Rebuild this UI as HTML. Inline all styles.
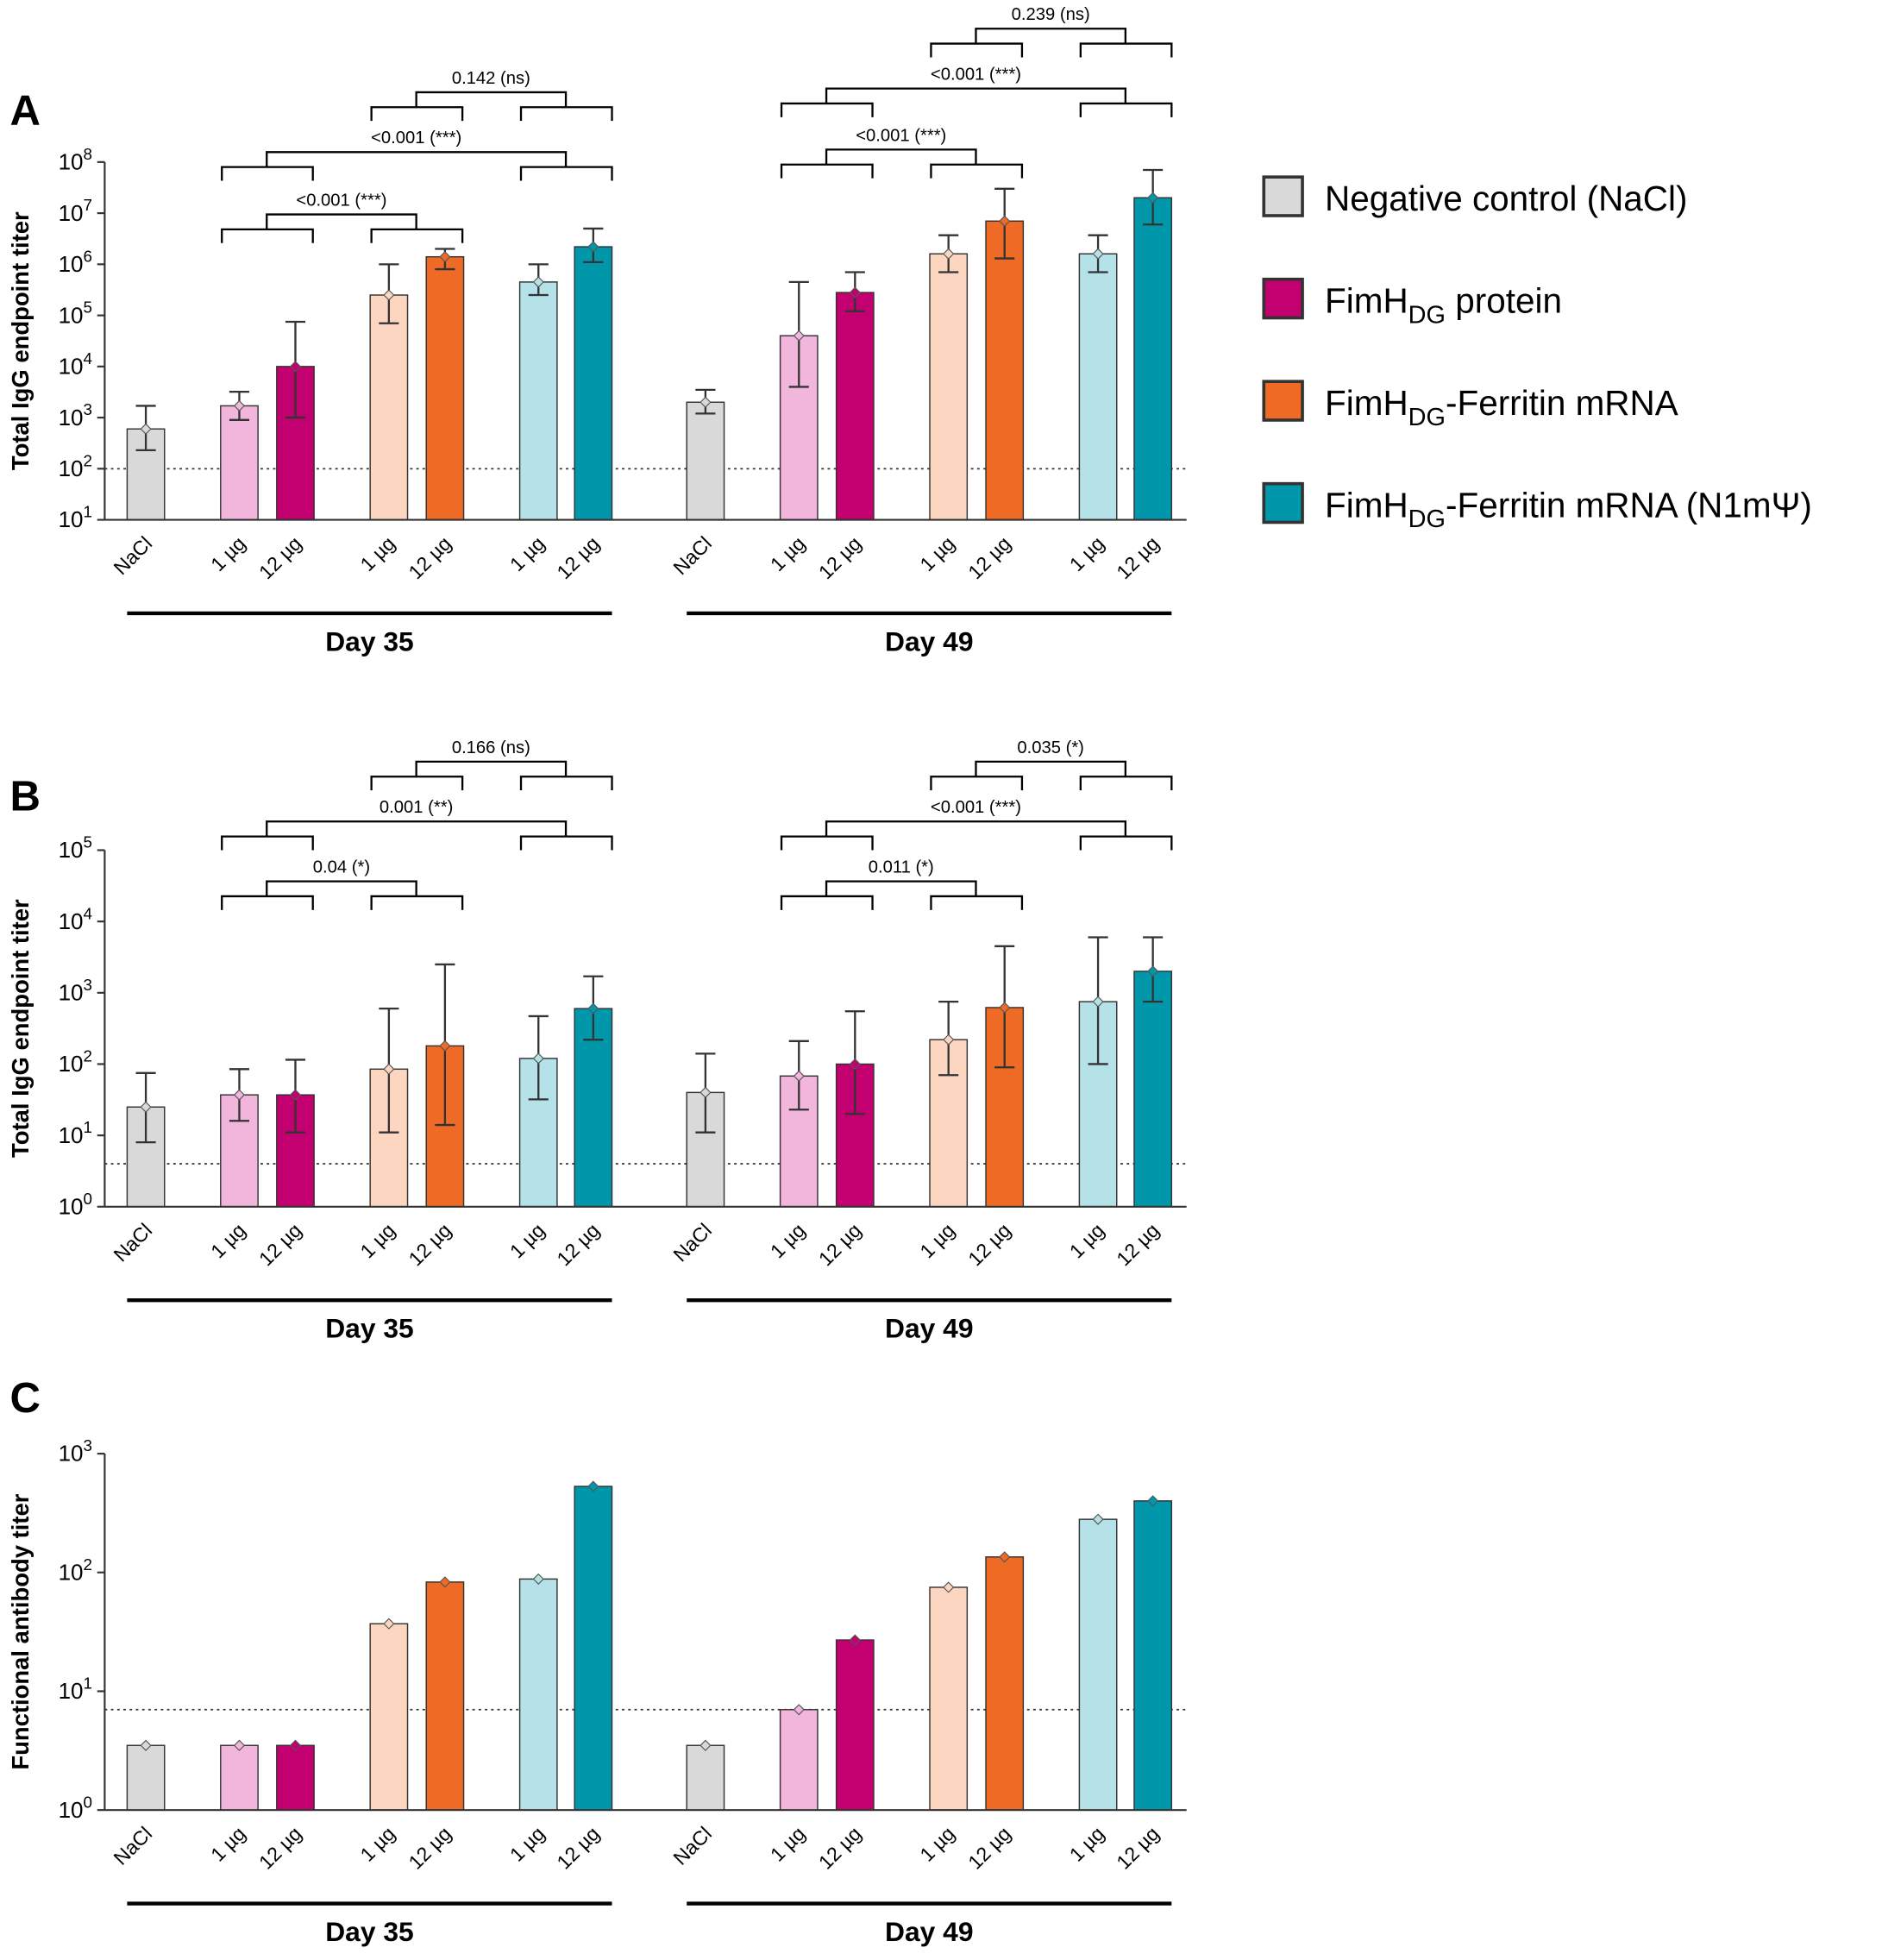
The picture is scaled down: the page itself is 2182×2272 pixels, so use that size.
<!DOCTYPE html>
<html><head><meta charset="utf-8"><style>
html,body{margin:0;padding:0;background:#fff}
svg{display:block;font-family:"Liberation Sans",Arial,sans-serif}
</style></head><body>
<svg id="chart" width="2182" height="2272" viewBox="0 0 1510 1572.3" xmlns="http://www.w3.org/2000/svg"></svg>
<script>
const categories = ["NaCl","1 µg","12 µg","1 µg","12 µg","1 µg","12 µg"];
const days = ["Day 35","Day 49"];
const valuesA = [[600,1700,10000,250000,1400000,450000,2200000],[2000,40000,280000,1600000,7000000,1600000,20000000]];
const lowA = [[230,900,1000,70000,800000,250000,1100000],[1200,4000,120000,700000,1300000,700000,6000000]];
const highA = [[1700,3200,75000,1000000,2000000,1000000,5000000],[3500,450000,700000,3700000,30000000,3700000,70000000]];
const valuesB = [[25,37,37,85,180,120,600],[40,68,100,220,620,750,2000]];
const lowB = [[8,16,11,11,14,32,220],[11,23,20,70,90,100,750]];
const highB = [[75,85,115,600,2500,470,1700],[140,210,550,750,4500,6000,6000]];
const valuesC = [[3.5,3.5,3.5,37,83,88,530],[3.5,7,27,75,135,280,400]];
const statsA = [["<0.001 (***)","<0.001 (***)","0.142 (ns)"],["<0.001 (***)","<0.001 (***)","0.239 (ns)"]];
const statsB = [["0.04 (*)","0.001 (**)","0.166 (ns)"],["0.011 (*)","<0.001 (***)","0.035 (*)"]];
const legendLabels = [["Negative control (NaCl)",""],["FimH","DG"," protein"],["FimH","DG","-Ferritin mRNA"],["FimH","DG","-Ferritin mRNA (N1mΨ)"]];

const colors=["#d9d9d9","#f2b6dd","#c2006f","#fdd6c2","#ee6a25","#b5e1e8","#0097aa"];
const legendColors=["#d9d9d9","#c2006f","#ee6a25","#0097aa"];
const NS="http://www.w3.org/2000/svg";
const svg=document.getElementById('chart');
function el(tag,attrs,parent){const e=document.createElementNS(NS,tag);for(const k in attrs)e.setAttribute(k,attrs[k]);(parent||svg).appendChild(e);return e;}
const offs=[0,75,120,195,240,315,359];
const dayStart=[117,566];
function xPos(d,i){return dayStart[d]+offs[i];}

function panel(cfg){
  const g=el('g',{});
  
  
  const y=v=>cfg.y0-(Math.log10(v)-cfg.minExp)*cfg.pxDec;
  const bottom=cfg.y0, top=y(Math.pow(10,cfg.maxExp));
  const L=el('text',{x:8,y:cfg.letterY,'font-size':34,'font-weight':'bold'},g);L.textContent=cfg.letter;
  
  const yt=el('text',{x:0,y:0,'font-size':19,'font-weight':'bold','text-anchor':'middle',transform:`translate(23,${(top+bottom)/2}) rotate(-90)`},g);yt.textContent=cfg.ytitle;
  
  const dl=el('line',{x1:84,x2:952,y1:y(cfg.lod),y2:y(cfg.lod),stroke:'#333','stroke-width':1.2,'stroke-dasharray':'2,3'},g);
  
  for(let d=0;d<2;d++)for(let i=0;i<7;i++){
    const v=cfg.values[d][i], x=xPos(d,i);
    const b=el('rect',{x:x-15,y:y(v),width:30,height:bottom-y(v),fill:colors[i],stroke:'#333','stroke-width':1},g);
    
    if(cfg.low){
      const lo=y(cfg.low[d][i]),hi=y(cfg.high[d][i]);
      const e=el('path',{d:`M${x},${lo}V${hi}M${x-8},${lo}H${x+8}M${x-8},${hi}H${x+8}`,stroke:'#333','stroke-width':1.6,fill:'none'},g);
      
    }
    const dy=y(v);
    const p=el('path',{d:`M${x},${dy-4}L${x+4},${dy}L${x},${dy+4}L${x-4},${dy}Z`,fill:colors[i],stroke:'#555','stroke-width':0.8},g);
    
  }
  el('line',{x1:84,x2:952,y1:bottom,y2:bottom,stroke:'#333','stroke-width':1.5},g);
  el('line',{x1:84,x2:84,y1:top,y2:bottom,stroke:'#333','stroke-width':1.5},g);
  for(let e=cfg.minExp;e<=cfg.maxExp;e++){
    const ty=y(Math.pow(10,e));
    el('line',{x1:78,x2:84,y1:ty,y2:ty,stroke:'#333','stroke-width':1.5},g);
    const t=el('text',{x:74,y:ty+6,'font-size':18,'text-anchor':'end'},g);
    t.innerHTML=`10<tspan dy="-8" font-size="13">${e}</tspan>`;
    
  }
  for(let d=0;d<2;d++){
    for(let i=0;i<7;i++){
      const x=xPos(d,i);
      const t=el('text',{'font-size':16,'text-anchor':'end',transform:`translate(${x+6},${bottom+20}) rotate(-45)`},g);
      t.textContent=categories[i];
      
    }
    const x0=d?551:102,x1=d?940:491;
    el('line',{x1:x0,x2:x1,y1:cfg.dayY,y2:cfg.dayY,stroke:'#000','stroke-width':3},g);
    const t=el('text',{x:(x0+x1)/2,y:cfg.dayY+30,'font-size':22,'font-weight':'bold','text-anchor':'middle'},g);
    t.textContent=days[d];
  }
  if(cfg.stats){
    const pairs=[[1,3],[1,5],[3,5]];
    for(let d=0;d<2;d++)pairs.forEach((pr,k)=>{
      const by=cfg.brY[d][k];
      const a=xPos(d,pr[0]),b=xPos(d,pr[1]);
      const ca=a+22,cb=b+22;
      const path=`M${a-14},${by+23}V${by+12}H${a+59}V${by+23}M${b-14},${by+23}V${by+12}H${b+59}V${by+23}M${ca},${by+12}V${by}H${cb}V${by+12}`;
      const br=el('path',{d:path,stroke:'#000','stroke-width':1.6,fill:'none'},g);
      
      const t=el('text',{x:(ca+cb)/2,y:by-7,'font-size':14,'text-anchor':'middle'},g);
      t.textContent=cfg.stats[d][k];
    });
  }
}
panel({name:'panel-a',letter:'A',letterY:100,ytitle:'Total IgG endpoint titer',y0:417,pxDec:41,minExp:1,maxExp:8,lod:100,values:valuesA,low:lowA,high:highA,dayY:492,stats:statsA,brY:[[172,122,74],[120,71,23]]});
panel({name:'panel-b',letter:'B',letterY:650,ytitle:'Total IgG endpoint titer',y0:968,pxDec:57.2,minExp:0,maxExp:5,lod:4,values:valuesB,low:lowB,high:highB,dayY:1043,stats:statsB,brY:[[707,659,611],[707,659,611]]});
panel({name:'panel-c',letter:'C',letterY:1133,ytitle:'Functional antibody titer',y0:1452,pxDec:95.3,minExp:0,maxExp:3,lod:7,values:valuesC,dayY:1527});
legendLabels.forEach((lab,i)=>{
  const yy=142+i*82;
  const g=el('g',{});
  
  
  el('rect',{x:1014,y:yy,width:31,height:31,fill:legendColors[i],stroke:'#333','stroke-width':2.5},g);
  const t=el('text',{x:1063,y:yy+27,'font-size':28},g);
  if(i===0)t.textContent=lab[0];
  else t.innerHTML=`${lab[0]}<tspan dy="8" font-size="20">${lab[1]}</tspan><tspan dy="-8">${lab[2]}</tspan>`;
});
</script>
</body></html>
